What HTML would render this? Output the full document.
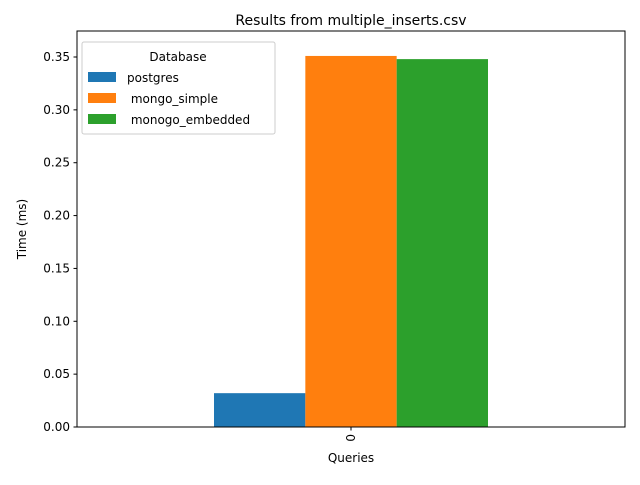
<!DOCTYPE html>
<html><head><meta charset="utf-8"><style>
body{margin:0;background:#fff;font-family:"Liberation Sans","DejaVu Sans",sans-serif;}
svg text{font-family:"DejaVu Sans","Liberation Sans",sans-serif;}
</style></head><body>
<svg id="chart" width="640" height="480" viewBox="0 0 640 480">
<rect width="640" height="480" fill="#fff"/>
<text x="351" y="25" font-size="14" text-anchor="middle">Results from multiple_inserts.csv</text>
<g id="bars"></g>
<rect x="77" y="31" width="548" height="396" fill="none" stroke="#000" stroke-width="1"/>
<g id="yaxis"></g>
<g id="xaxis"></g>
<text x="351" y="462" font-size="12" text-anchor="middle">Queries</text>
<text transform="translate(26,229) rotate(-90)" font-size="12" text-anchor="middle">Time (ms)</text>
<g id="legend">
<rect x="82" y="42" width="193" height="92" fill="#fff" fill-opacity="0.8" stroke="#ccc" rx="2"/>
<text x="178" y="61" font-size="12" text-anchor="middle">Database</text>
</g>
</svg>
<script>
const categories = ["0"];
const seriesNames = ["postgres", " mongo_simple", " monogo_embedded"];
const seriesValues = [[0.032], [0.351], [0.348]];
const colors = ["#1f77b4", "#ff7f0e", "#2ca02c"];
const yTicks = [0, 0.05, 0.10, 0.15, 0.20, 0.25, 0.30, 0.35];
const yTickLabels = ["0.00","0.05","0.10","0.15","0.20","0.25","0.30","0.35"];
const yMax = 0.3746;

const NS = "http://www.w3.org/2000/svg";
const L = 77, R = 625, T = 31, B = 427;
const y = v => B - v / yMax * (B - T);
const xUnit = (R - L) / categories.length;
const x = i => L + (i + 0.5) * xUnit;
function mk(tag, attrs, parent) {
  const e = document.createElementNS(NS, tag);
  for (const k in attrs) e.setAttribute(k, attrs[k]);
  parent.appendChild(e);
  return e;
}
const bars = document.getElementById("bars");
const bw = xUnit * 0.5 / seriesNames.length;
categories.forEach((c, ci) => {
  seriesValues.forEach((vals, si) => {
    const x0 = x(ci) - xUnit * 0.25 + si * bw;
    const r = mk("rect", {x: x0, y: y(vals[ci]), width: bw, height: y(0) - y(vals[ci]), fill: colors[si]}, bars);
    
    
  });
});
const ya = document.getElementById("yaxis");
yTicks.forEach((t, i) => {
  const yy = y(t);
  const ln = mk("line", {x1: L - 3.5, x2: L, y1: yy, y2: yy, stroke: "#000"}, ya);
  
  
  const tx = mk("text", {x: L - 7, y: yy + 4, "font-size": 12, "text-anchor": "end"}, ya);
  tx.textContent = yTickLabels[i];
  
  
});
const xa = document.getElementById("xaxis");
categories.forEach((c, i) => {
  const xx = x(i);
  const ln = mk("line", {x1: xx, x2: xx, y1: B, y2: B + 3.5, stroke: "#000"}, xa);
  
  
  const tx = mk("text", {transform: `translate(${xx + 4},${B + 7}) rotate(-90)`, "font-size": 12, "text-anchor": "end"}, xa);
  tx.textContent = c;
  
  
});
const lg = document.getElementById("legend");
seriesNames.forEach((n, i) => {
  const yy = 72 + i * 21;
  const r = mk("rect", {x: 88, y: yy, width: 28, height: 10, fill: colors[i]}, lg);
  
  
  const t = mk("text", {x: 127, y: yy + 10, "font-size": 12}, lg);
  t.setAttribute("xml:space", "preserve");
  t.style.whiteSpace = "pre";
  t.textContent = n;
  
  
});
</script>
</body></html>
